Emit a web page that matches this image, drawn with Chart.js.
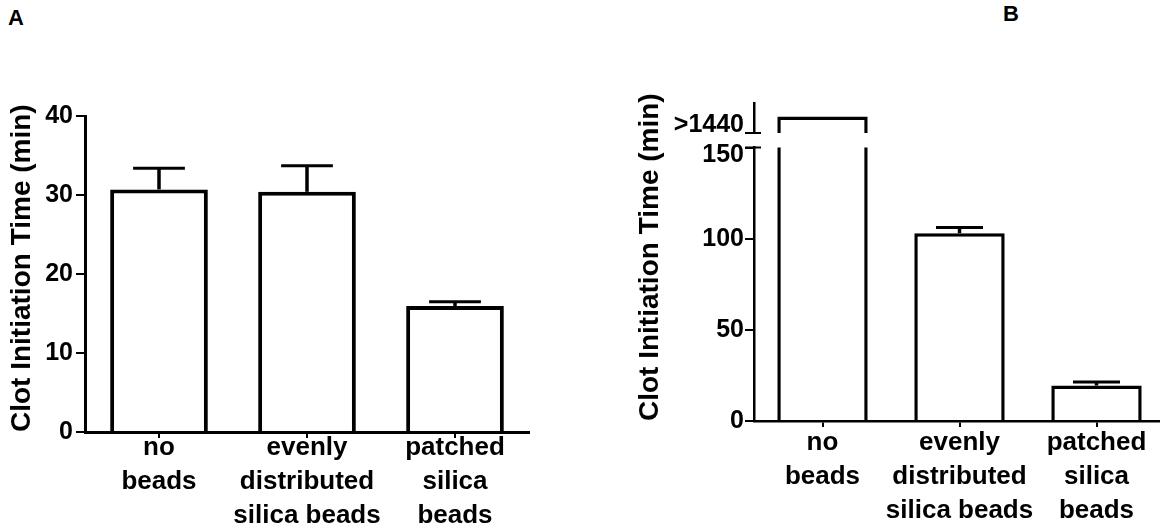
<!DOCTYPE html>
<html>
<head>
<meta charset="utf-8">
<script src="https://cdn.jsdelivr.net/npm/chart.js@4/dist/chart.umd.min.js"></script>
<style>
html,body{margin:0;padding:0;width:1160px;height:531px;overflow:hidden;background:#fff;}
canvas{position:absolute;top:0;}
#cA{left:0;}
#cB{left:580px;}
.panel{position:absolute;font:bold 22px "Liberation Sans",Arial,sans-serif;line-height:22px;color:#000;}
</style>
</head>
<body>
<div class="panel" style="left:8px;top:7px">A</div>
<div class="panel" style="left:1003px;top:3px">B</div>
<canvas id="cA" width="580" height="531"></canvas>
<canvas id="cB" width="585" height="531"></canvas>
<script>
// ---------- data ----------
const categories = [['no', 'beads'], ['evenly', 'distributed', 'silica beads'], ['patched', 'silica', 'beads']];
const yTitle = 'Clot Initiation Time (min)';

// Panel A
const meansA = [30.7, 30.4, 15.95];
const semA = [2.7, 3.3, 0.55];
const yTicksA = [0, 10, 20, 30, 40];

// Panel B (first value is ">1440": no clot within 24 h, drawn on broken axis)
const meansB = [1473, 103.0, 19.45];
const semB = [null, 3.1, 2.0];
const yTicksB = [0, 50, 100, 150];
const breakLowB = 150;
const breakHighB = 1440;
const yTopMaxB = 1500;

// ---------- helpers ----------
Chart.defaults.font.family = '"Liberation Sans", Arial, sans-serif';
Chart.defaults.font.weight = 'bold';
Chart.defaults.color = '#000';

const errorBarPlugin = {
  id: 'errorBars',
  afterDatasetsDraw(chart, args, opts) {
    const ctx = chart.ctx;
    const meta = chart.getDatasetMeta(opts.datasetIndex);
    const yScale = chart.scales[meta.yAxisID];
    meta.data.forEach((bar, i) => {
      const err = opts.errors[i];
      if (err == null) return;
      const p = bar.getProps(['x', 'y', 'width'], true);
      const top = yScale.getPixelForValue(opts.means[i] + err);
      const half = p.width * opts.capRatio / 2;
      ctx.save();
      ctx.strokeStyle = '#000';
      ctx.lineCap = 'butt';
      ctx.lineWidth = opts.stemWidth;
      ctx.beginPath(); ctx.moveTo(p.x, p.y); ctx.lineTo(p.x, top); ctx.stroke();
      ctx.lineWidth = opts.capWidth;
      ctx.beginPath(); ctx.moveTo(p.x - half, top); ctx.lineTo(p.x + half, top); ctx.stroke();
      ctx.restore();
    });
  }
};

const axisBreakPlugin = {
  id: 'axisBreak',
  afterDraw(chart, args, opts) {
    const ctx = chart.ctx;
    const low = chart.scales[opts.lowId];
    const high = chart.scales[opts.highId];
    const x = low.right;
    ctx.save();
    ctx.strokeStyle = '#000';
    ctx.lineWidth = opts.width;
    [high.bottom, low.top].forEach(yy => {
      ctx.beginPath(); ctx.moveTo(x - opts.left, yy); ctx.lineTo(x + opts.right, yy); ctx.stroke();
    });
    ctx.restore();
  }
};

const blackGrid = (len, offset) => ({
  display: true, drawOnChartArea: false, drawTicks: true, tickLength: len,
  lineWidth: 2, color: '#000', offset: offset
});

// ---------- Panel A ----------
new Chart(document.getElementById('cA'), {
  type: 'bar',
  data: {
    labels: categories,
    datasets: [{
      data: meansA,
      backgroundColor: '#fff',
      borderColor: '#000',
      borderWidth: 4,
      borderSkipped: 'start',
      categoryPercentage: 1,
      barPercentage: 0.66
    }]
  },
  options: {
    responsive: false,
    animation: false,
    devicePixelRatio: 1,
    layout: { padding: { left: 0, top: 116, right: 51, bottom: 0 } },
    plugins: {
      legend: { display: false },
      tooltip: { enabled: false },
      errorBars: { datasetIndex: 0, means: meansA, errors: semA, capRatio: 0.53, stemWidth: 3.5, capWidth: 3 }
    },
    scales: {
      x: {
        type: 'category',
        grid: blackGrid(6, false),
        border: { display: true, width: 3, color: '#000' },
        ticks: { color: '#000', font: { size: 26, weight: 'bold', lineHeight: 1.31 }, padding: -7, maxRotation: 0, autoSkip: false },
        afterFit: s => { s.height = 99; }
      },
      y: {
        type: 'linear',
        min: yTicksA[0],
        max: yTicksA[yTicksA.length - 1],
        afterBuildTicks: s => { s.ticks = yTicksA.map(v => ({ value: v })); },
        grid: blackGrid(9, false),
        border: { display: true, width: 3, color: '#000' },
        ticks: { color: '#000', font: { size: 25, weight: 'bold' }, padding: 3 },
        title: {
          display: true, text: yTitle, color: '#000', align: 'start',
          font: { size: 28, weight: 'bold', lineHeight: 1.2 }, padding: { top: 5, bottom: 0 }
        },
        afterFit: s => { s.width = 85; }
      }
    }
  },
  plugins: [errorBarPlugin]
});

// ---------- Panel B ----------
const upperB = meansB.map(v => (v > breakHighB ? [breakHighB, v] : null));
const yWidthB = 126;
const stackTopB = 30, stackGapB = 14.5, stackLowB = 273.5;

new Chart(document.getElementById('cB'), {
  type: 'bar',
  data: {
    labels: categories,
    datasets: [{
      data: meansB,
      yAxisID: 'y',
      grouped: false,
      backgroundColor: '#fff',
      borderColor: '#000',
      borderWidth: 3.5,
      borderSkipped: 'start',
      clip: { left: false, right: false, bottom: false, top: 0 },
      categoryPercentage: 1,
      barPercentage: 0.66
    }, {
      data: upperB,
      yAxisID: 'yTop',
      grouped: false,
      backgroundColor: '#fff',
      borderColor: '#000',
      borderWidth: 3.5,
      borderSkipped: 'start',
      categoryPercentage: 1,
      barPercentage: 0.66
    }]
  },
  options: {
    responsive: false,
    animation: false,
    devicePixelRatio: 1,
    layout: { padding: { left: 174 - yWidthB, top: 103, right: 0, bottom: 0 } },
    plugins: {
      legend: { display: false },
      tooltip: { enabled: false },
      errorBars: { datasetIndex: 0, means: meansB, errors: semB, capRatio: 0.52, stemWidth: 3.5, capWidth: 3 },
      axisBreak: { lowId: 'y', highId: 'yTop', left: 9, right: 7, width: 2 }
    },
    scales: {
      x: {
        type: 'category',
        grid: blackGrid(6, false),
        border: { display: true, width: 2.5, color: '#000' },
        ticks: { color: '#000', font: { size: 26, weight: 'bold', lineHeight: 1.31 }, padding: -1, maxRotation: 0, autoSkip: false },
        afterFit: s => { s.height = 110; }
      },
      y: {
        type: 'linear',
        position: 'left',
        stack: 'yb',
        stackWeight: stackLowB,
        weight: 1,
        min: yTicksB[0],
        max: breakLowB,
        afterBuildTicks: s => { s.ticks = yTicksB.map(v => ({ value: v })); },
        grid: blackGrid(9, false),
        border: { display: true, width: 2.5, color: '#000' },
        ticks: {
          color: '#000', font: { size: 25, weight: 'bold', lineHeight: 0.62 }, padding: 1,
          callback: v => (v === breakLowB ? ['', String(v)] : String(v))
        },
        title: {
          display: true, text: yTitle, color: '#000', align: 'start',
          font: { size: 28, weight: 'bold', lineHeight: 1.2 }, padding: { top: 5, bottom: 0 }
        },
        afterFit: s => { s.width = yWidthB; }
      },
      yGap: {
        type: 'linear',
        position: 'left',
        stack: 'yb',
        stackWeight: stackGapB,
        weight: 2,
        display: false,
        afterFit: s => { s.width = yWidthB; }
      },
      yTop: {
        type: 'linear',
        position: 'left',
        stack: 'yb',
        stackWeight: stackTopB,
        weight: 3,
        min: breakHighB,
        max: yTopMaxB,
        afterBuildTicks: s => { s.ticks = [{ value: breakHighB }]; },
        grid: blackGrid(9, false),
        border: { display: true, width: 2.5, color: '#000' },
        ticks: {
          color: '#000', font: { size: 25, weight: 'bold', lineHeight: 0.62 }, padding: 1,
          callback: v => ['>' + v, '']
        },
        afterFit: s => { s.width = yWidthB; }
      }
    }
  },
  plugins: [errorBarPlugin, axisBreakPlugin]
});
</script>
</body>
</html>
